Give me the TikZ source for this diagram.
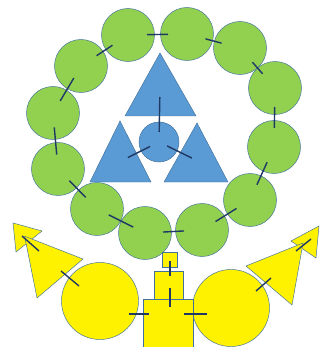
\documentclass[tikz,border=0pt]{standalone}
\usepackage{xcolor}
\usetikzlibrary{calc}
\definecolor{leaf}{HTML}{92D050}
\definecolor{sky}{HTML}{5B9BD5}
\definecolor{rim}{HTML}{41719C}
\definecolor{navy}{HTML}{1F3864}
\begin{document}
\begin{tikzpicture}[x=0.03cm,y=-0.03cm,
  ring/.style={circle,draw=rim,fill=leaf,line width=0.4pt,minimum size=15.9mm,inner sep=0pt},
  bluebit/.style={draw=rim,fill=sky,line width=0.4pt},
  sun/.style={draw=rim,fill=yellow,line width=0.4pt},
  tie/.style={draw=navy,line width=1.2pt}]
\useasboundingbox (0,0) rectangle (324,347);
% green ring
\node[ring] (g1)  at (128,35)  {};
\node[ring] (g2)  at (187,34)  {};
\node[ring] (g3)  at (240,48)  {};
\node[ring] (g4)  at (275,88)  {};
\node[ring] (g5)  at (274,147) {};
\node[ring] (g6)  at (250,200) {};
\node[ring] (g7)  at (202,230) {};
\node[ring] (g8)  at (145,233) {};
\node[ring] (g9)  at (97,209)  {};
\node[ring] (g10) at (58,169)  {};
\node[ring] (g11) at (53,113)  {};
\node[ring] (g12) at (81,66)   {};
% blue triangles
\draw[bluebit] (160,53) -- (196,116) -- (125,116) -- cycle;
\draw[bluebit] (120,121) -- (151,182) -- (90,182) -- cycle;
\draw[bluebit] (197,123) -- (228,182) -- (164,182) -- cycle;
\coordinate (t1) at (160,87);
\coordinate (t2) at (119,162);
\coordinate (t3) at (200,162);
\node[bluebit,circle,minimum size=12mm,inner sep=0pt] (b0) at (159,142) {};
% yellow
\node[sun,circle,minimum size=23.1mm,inner sep=0pt] (c1) at (100,301) {};
\node[sun,circle,minimum size=23.1mm,inner sep=0pt] (c2) at (231,308) {};
\node[sun,minimum width=4.5mm,minimum height=4.5mm,inner sep=0pt] (sq1) at (169.5,259.5) {};
\node[sun,minimum width=8.7mm,minimum height=8.4mm,inner sep=0pt] (sq2) at (168.5,285) {};
\node[sun,minimum size=15mm,inner sep=0pt] (sq3) at (168,324) {};
\draw[sun] (13,223) -- (42,231) -- (16,252) -- cycle;
\draw[sun] (24.6,236.2) -- (83,259) -- (37,298) -- cycle;
\draw[sun] (319,226) -- (316,258) -- (291,241) -- cycle;
\draw[sun] (303,243) -- (292,305) -- (246,266) -- cycle;
\coordinate (plt) at (24,235);
\coordinate (pl)  at (47,264);
\coordinate (prt) at (309,242);
\coordinate (pr)  at (280,271);
% ties
\foreach \a/\b/\h in {g12/g1/2.85mm, g1/g2/3.15mm, g2/g3/2.5mm, g3/g4/2.3mm,
    g4/g5/3.15mm, g5/g6/3.7mm, g6/g7/3.7mm, g7/g8/3.15mm, g8/g9/4.1mm,
    g9/g10/3.5mm, g10/g11/4.1mm, g11/g12/4mm,
    t1/b0/5.25mm, t2/b0/3.75mm, t3/b0/4.15mm}
  \draw[tie] ($(\a.center)!.5!(\b.center)!\h!(\a.center)$) -- ($(\a.center)!.5!(\b.center)!\h!(\b.center)$);
\draw[tie] ($(plt)+(-2,1)$) -- ($(pl)+(-8,-13)$);
\draw[tie] ($(pl)+(14,7)$) -- ($(c1.center)+(-21,-15)$);
\draw[tie] ($(prt)+(2,-3)$) -- ($(pr)+(16,-20)$);
\draw[tie] ($(pr)+(-9,7)$) -- ($(c2.center)+(25,-17)$);
\draw[tie] ($(sq1.center)+(0.5,1.5)$) -- ($(sq2.north)+(1.5,5)$);
\draw[tie] ($(sq2.center)+(1.5,3)$) -- ($(sq3.north)+(2,8)$);
\draw[tie] ($(sq3.west)+(-14,-10)$) -- ($(sq3.west)+(6,-10)$);
\draw[tie] ($(sq3.east)+(-9,-10)$) -- ($(sq3.east)+(14,-10)$);
\end{tikzpicture}
\end{document}
